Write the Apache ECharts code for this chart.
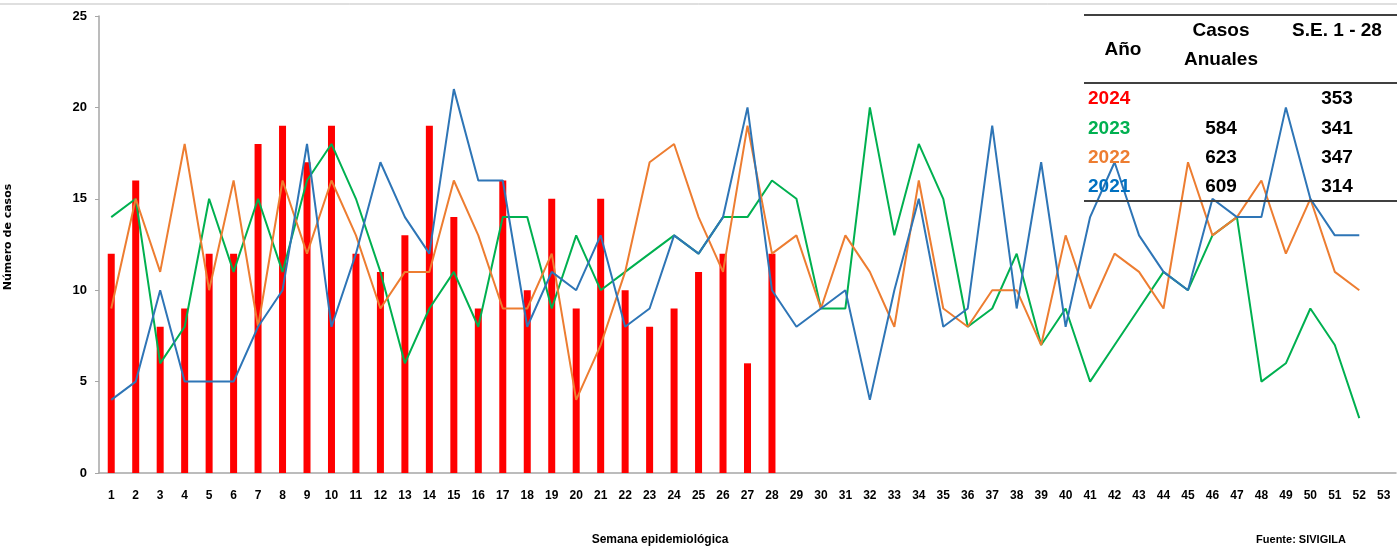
<!DOCTYPE html>
<html lang="es">
<head>
    <meta charset="UTF-8">
    <title>Casos por semana epidemiológica</title>
    <script src="https://cdn.jsdelivr.net/npm/echarts@6/dist/echarts.min.js"></script>
    <style>
        html, body { margin: 0; padding: 0; background: #fff; }
        #main { width: 1397px; height: 547px; }
    </style>
</head>
<body>
<div id="main"></div>
<script>
// semanas epidemiológicas
var semanas = ['1','2','3','4','5','6','7','8','9','10','11','12','13','14','15','16','17','18','19','20',
    '21','22','23','24','25','26','27','28','29','30','31','32','33','34','35','36','37','38','39','40',
    '41','42','43','44','45','46','47','48','49','50','51','52','53'];

var casos2024 = [12,16,8,9,12,12,18,19,17,19,12,11,13,19,14,9,16,10,15,9,15,10,8,9,11,12,6,12];
var casos2023 = [14,15,6,8,15,11,15,11,16,18,15,11,6,9,11,8,14,14,9,13,
    10,11,12,13,12,14,14,16,15,9,9,20,13,18,15,8,9,12,7,9,
    5,7,9,11,10,13,14,5,6,9,7,3];
var casos2022 = [9,15,11,18,10,16,8,16,12,16,13,9,11,11,16,13,9,9,12,4,
    7,11,17,18,14,11,19,12,13,9,13,11,8,16,9,8,10,10,7,13,
    9,12,11,9,17,13,14,16,12,15,11,10];
var casos2021 = [4,5,10,5,5,5,8,10,18,8,12,17,14,12,21,16,16,8,11,10,
    13,8,9,13,12,14,20,10,8,9,10,4,10,15,8,9,19,9,17,8,
    14,17,13,11,10,15,14,14,20,15,13,13];

// tabla resumen
var tablaAnios = ['2024','2023','2022','2021'];
var tablaAnuales = ['', '584', '623', '609'];
var tablaSE = ['353', '341', '347', '314'];
var tablaColores = ['#FF0000', '#00B050', '#ED7D31', '#0070C0'];

var fuente = 'Liberation Sans';

// texto en negrita
function texto(x, y, txt, size, color, align) {
    return {
        type: 'text', z: 10, x: x, y: y,
        style: {
            text: txt, fill: color || '#000',
            font: 'bold ' + size + 'px ' + fuente,
            textAlign: align || 'center', textVerticalAlign: 'middle'
        }
    };
}

var graphic = [
    // linea superior gris
    { type: 'line', shape: { x1: 0, y1: 4, x2: 1397, y2: 4 }, style: { stroke: '#BFBFBF', lineWidth: 1 } },
    // lineas de la tabla
    { type: 'line', z: 10, shape: { x1: 1084, y1: 15, x2: 1397, y2: 15 }, style: { stroke: '#404040', lineWidth: 2 } },
    { type: 'line', z: 10, shape: { x1: 1084, y1: 83, x2: 1397, y2: 83 }, style: { stroke: '#404040', lineWidth: 2 } },
    { type: 'line', z: 10, shape: { x1: 1084, y1: 201, x2: 1397, y2: 201 }, style: { stroke: '#404040', lineWidth: 2 } },
    // encabezados
    texto(1123, 50, 'Año', 19),
    texto(1221, 31, 'Casos', 19),
    texto(1221, 60, 'Anuales', 19),
    texto(1337, 31, 'S.E. 1 - 28', 19),
    // titulos de ejes y fuente
    {
        type: 'text', x: 8, y: 237, rotation: Math.PI / 2,
        style: { text: 'Número de casos', fill: '#000', font: 'bold 11px DejaVu Sans', textAlign: 'center', textVerticalAlign: 'middle' }
    },
    texto(660, 540, 'Semana epidemiológica', 12),
    texto(1301, 540, 'Fuente: SIVIGILA', 11)
];

var filasY = [99, 129, 158, 187];
tablaAnios.forEach(function (anio, i) {
    graphic.push(texto(1088, filasY[i], anio, 19, tablaColores[i], 'left'));
    graphic.push(texto(1221, filasY[i], tablaAnuales[i], 19));
    graphic.push(texto(1337, filasY[i], tablaSE[i], 19));
});

function serieLinea(nombre, datos, color) {
    return {
        name: nombre,
        type: 'line',
        data: datos,
        symbol: 'none',
        lineStyle: { color: color, width: 2 },
        itemStyle: { color: color }
    };
}

var myChart = echarts.init(document.getElementById('main'));
myChart.setOption({
    animation: false,
    grid: { left: 99, right: 1, top: 16, bottom: 74 },
    xAxis: {
        type: 'category',
        data: semanas,
        boundaryGap: true,
        axisLine: { lineStyle: { color: '#A6A6A6', width: 1.5 } },
        axisTick: { show: false },
        axisLabel: { interval: 0, margin: 17, color: '#000', fontWeight: 'bold', fontSize: 12, fontFamily: fuente }
    },
    yAxis: {
        type: 'value',
        min: 0,
        max: 25,
        interval: 5,
        splitLine: { show: false },
        axisLine: { show: true, lineStyle: { color: '#A6A6A6', width: 1.5 } },
        axisTick: { show: true, length: 4, lineStyle: { color: '#A6A6A6' } },
        axisLabel: { margin: 12, color: '#000', fontWeight: 'bold', fontSize: 13, fontFamily: fuente }
    },
    series: [
        {
            name: '2024',
            type: 'bar',
            data: casos2024,
            barWidth: 7,
            itemStyle: { color: '#FF0000' }
        },
        serieLinea('2023', casos2023, '#00B050'),
        serieLinea('2022', casos2022, '#ED7D31'),
        serieLinea('2021', casos2021, '#2E75B6')
    ],
    graphic: graphic
});
</script>
</body>
</html>
